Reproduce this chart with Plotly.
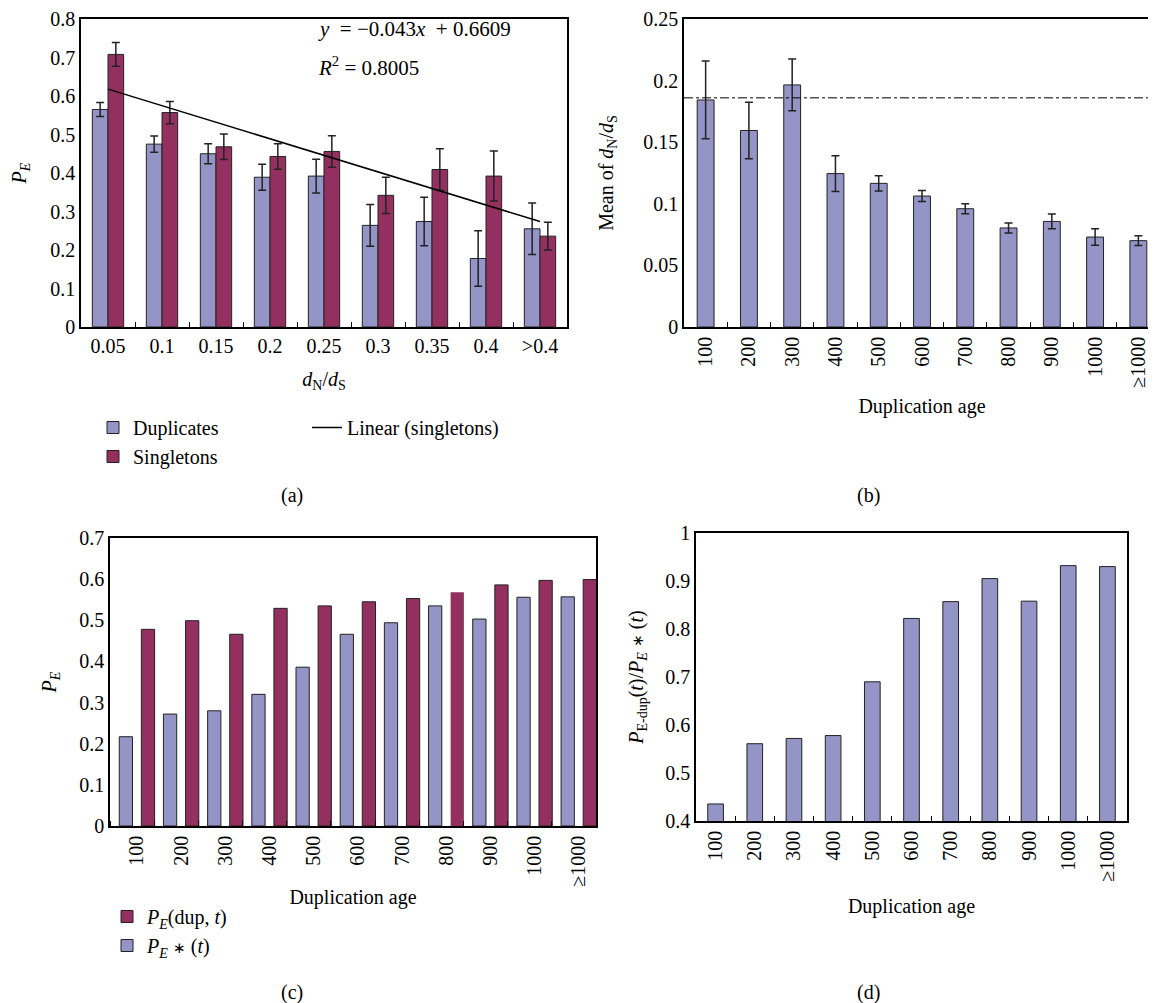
import plotly.graph_objects as go

W, H = 1156, 1003
OFF = 8  # page body margin of the saved html

# (a) P_E per dN/dS class
dnds_bins = ['0.05', '0.1', '0.15', '0.2', '0.25', '0.3', '0.35', '0.4', '>0.4']
pe_duplicates = [0.565, 0.475, 0.450, 0.389, 0.392, 0.264, 0.274, 0.178, 0.255]
pe_duplicates_err = [0.018, 0.021, 0.026, 0.034, 0.044, 0.054, 0.063, 0.072, 0.067]
pe_singletons = [0.708, 0.557, 0.468, 0.443, 0.456, 0.342, 0.409, 0.392, 0.236]
pe_singletons_err = [0.031, 0.029, 0.033, 0.033, 0.041, 0.047, 0.054, 0.065, 0.036]
trend_slope = -0.043
trend_intercept = 0.6609
trend_r2 = 0.8005

# (b) mean dN/dS per duplication age
dup_age = ['100', '200', '300', '400', '500', '600', '700', '800', '900', '1000', '≥1000']
mean_dnds = [0.1843, 0.1595, 0.1965, 0.1245, 0.1166, 0.1063, 0.0960, 0.0804, 0.0857, 0.0730, 0.0701]
mean_dnds_err = [0.0316, 0.023, 0.021, 0.0145, 0.0062, 0.0045, 0.004, 0.0041, 0.006, 0.0067, 0.004]
dnds_ref = 0.186

# (c) P_E(dup, t) and P_E*(t)
pe_star_t = [0.217, 0.272, 0.280, 0.320, 0.386, 0.466, 0.494, 0.535, 0.503, 0.556, 0.557]
pe_dup_t = [0.478, 0.499, 0.466, 0.529, 0.535, 0.545, 0.553, 0.568, 0.586, 0.597, 0.599]

# (d) ratio P_E-dup(t) / P_E*(t)
pe_ratio = [0.4355, 0.561, 0.572, 0.578, 0.690, 0.822, 0.857, 0.905, 0.858, 0.932, 0.930]

BLUE = '#9494C7'
RED = '#94305F'
EDGE = '#222222'
FONT = 'Liberation Serif'
FS = 20


def px(x, y):
    # screen pixel -> paper coords
    return (x - OFF) / W, 1 - (y - OFF) / H


def dom(x0, x1, y0, y1):
    a, b = px(x0, y1)
    c, d = px(x1, y0)
    return [a, c], [b, d]


def err(arr):
    return dict(type='data', array=arr, color=EDGE, thickness=1.5, width=4)


fig = go.Figure()

# ---- (a)
fig.add_trace(go.Bar(x=dnds_bins, y=pe_duplicates, error_y=err(pe_duplicates_err),
                     width=0.29, offset=-0.29, marker=dict(color=BLUE, line=dict(color=EDGE, width=1)),
                     name='Duplicates', xaxis='x', yaxis='y', legend='legend'))
fig.add_trace(go.Bar(x=dnds_bins, y=pe_singletons, error_y=err(pe_singletons_err),
                     width=0.29, offset=0, marker=dict(color=RED, line=dict(color=EDGE, width=1)),
                     name='Singletons', xaxis='x', yaxis='y', legend='legend'))
trend = [trend_slope * (i + 1) + trend_intercept for i in range(len(dnds_bins))]
fig.add_trace(go.Scatter(x=dnds_bins, y=trend, mode='lines', line=dict(color='black', width=1.5),
                         name='Linear (singletons)', xaxis='x', yaxis='y', legend='legend2'))

# ---- (b)
fig.add_trace(go.Bar(x=dup_age, y=mean_dnds, error_y=err(mean_dnds_err),
                     width=0.39, offset=-0.195, marker=dict(color=BLUE, line=dict(color=EDGE, width=1)),
                     showlegend=False, xaxis='x2', yaxis='y2'))

# ---- (c)
age_idx = list(range(len(dup_age)))
red_edges = [0 if a == '800' else 1 for a in dup_age]
fig.add_trace(go.Bar(x=age_idx, y=pe_star_t, width=0.3, offset=-0.4,
                     marker=dict(color=BLUE, line=dict(color=EDGE, width=1)),
                     name='<i>P<sub>E</sub></i> <span style="font-size:15px">∗</span> (<i>t</i>)',
                     legendrank=2, xaxis='x3', yaxis='y3', legend='legend3'))
fig.add_trace(go.Bar(x=age_idx, y=pe_dup_t, width=0.3, offset=0.1,
                     marker=dict(color=RED, line=dict(color=EDGE, width=red_edges)),
                     name='<i>P<sub>E</sub></i>(dup, <i>t</i>)', legendrank=1,
                     xaxis='x3', yaxis='y3', legend='legend3'))

# ---- (d)
fig.add_trace(go.Bar(x=dup_age, y=pe_ratio, width=0.4, offset=-0.2,
                     marker=dict(color=BLUE, line=dict(color=EDGE, width=1)),
                     showlegend=False, xaxis='x4', yaxis='y4'))

xa, ya = dom(81, 567, 19, 327)
xb, yb = dom(684, 1160, 19, 327)
xc, yc = dom(110, 596, 538, 826)
xd, yd = dom(696, 1127, 533, 821)

base = dict(showline=True, linecolor='black', linewidth=1.5, mirror=True, showgrid=False,
            zeroline=False, automargin=False, ticklabeloverflow='allow',
            tickfont=dict(size=FS, color='black'))
xcat = dict(base, type='category', tickson='boundaries', ticks='inside', ticklen=5,
            tickcolor='black', tickwidth=1)
yax = dict(base, ticks='')
ttl = dict(size=FS)

fig.update_layout(
    width=W, height=H,
    margin=dict(l=0, r=0, t=0, b=0),
    paper_bgcolor='white', plot_bgcolor='white',
    font=dict(family=FONT, size=FS, color='black'),
    barmode='overlay',
    xaxis=dict(xcat, domain=xa, anchor='y',
               title=dict(text='<i>d</i><sub>N</sub>/<i>d</i><sub>S</sub>', standoff=16, font=ttl)),
    yaxis=dict(yax, domain=ya, anchor='x', range=[0, 0.8], dtick=0.1,
               title=dict(text='<i>P<sub>E</sub></i>', standoff=20, font=ttl)),
    xaxis2=dict(xcat, domain=xb, anchor='y2', tickangle=-90,
                title=dict(text='Duplication age', standoff=12, font=ttl)),
    yaxis2=dict(yax, domain=yb, anchor='x2', range=[0, 0.25], dtick=0.05,
                title=dict(text='Mean of <i>d</i><sub>N</sub>/<i>d</i><sub>S</sub>', standoff=24, font=ttl)),
    xaxis3=dict(base, domain=xc, anchor='y3', tickangle=-90, range=[-0.61, 10.39],
                tickmode='array', tickvals=age_idx, ticktext=dup_age, ticks='',
                minor=dict(ticks='inside', tick0=-0.61, dtick=1, ticklen=5, tickcolor='black'),
                title=dict(text='Duplication age', standoff=4, font=ttl)),
    yaxis3=dict(yax, domain=yc, anchor='x3', range=[0, 0.7], dtick=0.1,
                title=dict(text='<i>P<sub>E</sub></i>', standoff=17, font=ttl)),
    xaxis4=dict(xcat, domain=xd, anchor='y4', tickangle=-90,
                title=dict(text='Duplication age', standoff=18, font=ttl)),
    yaxis4=dict(yax, domain=yd, anchor='x4', range=[0.4, 1.0], dtick=0.1,
                title=dict(text='<i>P</i><sub>E-dup</sub>(<i>t</i>)/<i>P<sub>E</sub></i> '
                                '<span style="font-size:15px">∗</span> (<i>t</i>)',
                           standoff=16, font=ttl)),
    legend=dict(x=px(93, 408)[0], y=px(93, 408)[1], xanchor='left', yanchor='top',
                bgcolor='rgba(0,0,0,0)', font=dict(size=FS), tracegroupgap=0),
    legend2=dict(x=px(307, 408)[0], y=px(307, 408)[1], xanchor='left', yanchor='top',
                 bgcolor='rgba(0,0,0,0)', font=dict(size=FS)),
    legend3=dict(x=px(107, 897)[0], y=px(107, 897)[1], xanchor='left', yanchor='top',
                 bgcolor='rgba(0,0,0,0)', font=dict(size=FS), traceorder='normal'),
    shapes=[dict(type='line', xref='x2 domain', yref='y2', x0=0, x1=1, y0=dnds_ref, y1=dnds_ref,
                 line=dict(color='black', width=1, dash='dashdot'))],
)

ann = [
    (316, 29, f'<i>y</i>  = −{abs(trend_slope)}<i>x</i>  + {trend_intercept}', 'left', 21),
    (316, 66, f'<i>R</i><sup>2</sup> = {trend_r2}', 'left', 21),
    (292, 496, '(a)', 'center', FS),
    (868, 496, '(b)', 'center', FS),
    (292, 992, '(c)', 'center', FS),
    (868, 992, '(d)', 'center', FS),
]
for ax_, ay_, txt, al, fs in ann:
    x_, y_ = px(ax_, ay_)
    fig.add_annotation(x=x_, y=y_, xref='paper', yref='paper', text=txt,
                       showarrow=False, xanchor=al, yanchor='middle', font=dict(size=fs))

fig.write_html('out.html')
